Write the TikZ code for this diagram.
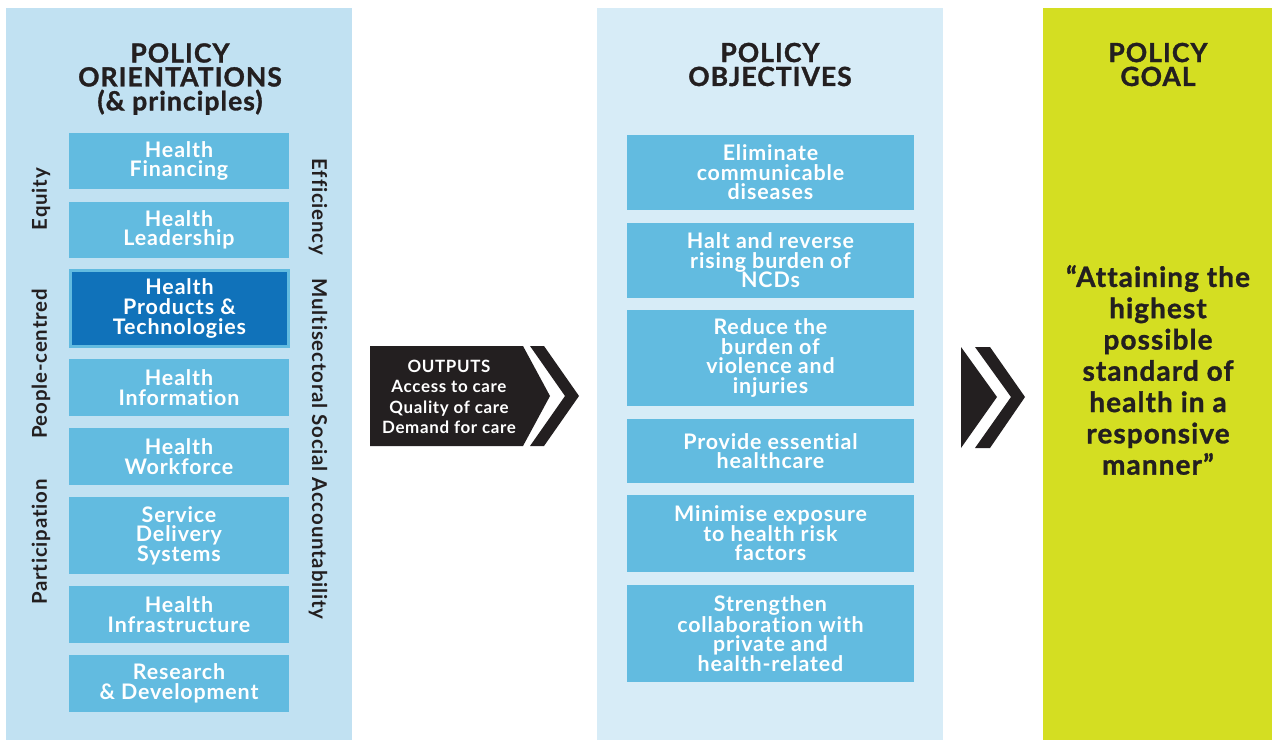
\documentclass[tikz,border=0pt]{standalone}
\usepackage{fontspec}
\setmainfont{Lato}[LetterSpace=4, RawFeature=-liga]
\newfontfamily\heavyfont{Lato}[LetterSpace=4, RawFeature=-liga, BoldFeatures={FakeBold=1.2}]
\definecolor{panelA}{HTML}{C1E1F2}
\definecolor{panelB}{HTML}{D7ECF7}
\definecolor{goalgreen}{HTML}{D4DE22}
\definecolor{boxblue}{HTML}{62BBE0}
\definecolor{darkblue}{HTML}{1072BA}
\definecolor{inkdark}{HTML}{231F20}
\begin{document}
\begin{tikzpicture}[x=1bp,y=-1bp,
  titletext/.style={text=inkdark, align=center, inner sep=0,
    font=\heavyfont\bfseries\fontsize{26.5}{24}\selectfont},
  pillar/.style={fill=boxblue, text=white, align=center, inner sep=0,
    font=\bfseries\fontsize{21.5}{19.6}\selectfont},
  orient/.style={pillar, minimum width=220bp},
  objective/.style={pillar, minimum width=287bp},
  featured/.style={orient, fill=darkblue, draw=boxblue, line width=3bp,
    minimum width=218bp},
  principle/.style={text=inkdark, inner sep=0,
    font=\bfseries\fontsize{20.5}{20}\selectfont},
  chevron/.style={fill=inkdark},
  outputtext/.style={text=white, align=center, inner sep=0,
    font=\bfseries\fontsize{17}{20.5}\selectfont},
  goaltext/.style={text=inkdark, align=center, inner sep=0,
    font=\heavyfont\bfseries\fontsize{28}{31.4}\selectfont}]

% canvas
\useasboundingbox (0,0) rectangle (1272,740);
\fill[white] (0,0) rectangle (1272,740);

% three column panels
\fill[panelA] (6,8) rectangle (352,740);
\fill[panelB] (597,8) rectangle (943,740);
\fill[goalgreen] (1043,8) rectangle (1272,740);

% column headings
\node[titletext] (tOrient) at (180,79) {POLICY\\ORIENTATIONS\\(\& principles)};
\node[titletext] (tObj) at (770,64.5) {POLICY\\OBJECTIVES};
\node[titletext] (tGoal) at (1158,64.5) {POLICY\\GOAL};

% policy orientations
\node[orient, minimum height=56bp] (fin) at (179,161) {Health\\Financing};
\node[orient, minimum height=56bp] (lead) at (179,230) {Health\\Leadership};
\node[featured, minimum height=76bp] (prod) at (179.5,308.5) {Health\\Products \&\\Technologies};
\node[orient, minimum height=57bp] (info) at (179,387.5) {Health\\Information};
\node[orient, minimum height=57bp] (work) at (179,456.5) {Health\\Workforce};
\node[orient, minimum height=77bp] (serv) at (179,535.5) {Service\\Delivery\\Systems};
\node[orient, minimum height=57bp] (infra) at (179,614.5) {Health\\Infrastructure};
\node[orient, minimum height=57bp] (rd) at (179,683.5) {Research\\\& Development};

% principles along both sides
\node[principle, rotate=90] (equity) at (41,199) {Equity};
\node[principle, rotate=90] (people) at (41,364) {People-centred};
\node[principle, rotate=90] (partic) at (41,542) {Participation};
\node[principle, rotate=-90] (effic) at (318,207) {Efficiency};
\node[principle, rotate=-90] (multi) at (318,449) {Multisectoral Social Accountability};

% outputs arrow
\fill[chevron] (370,346) -- (523,346) -- (550,396) -- (523,446) -- (370,446) -- cycle;
\fill[chevron] (530,346) -- (544,346) -- (579,396) -- (544,446) -- (530,446) -- (565,396) -- cycle;
\node[outputtext] (outputs) at (449,397) {OUTPUTS\\Access to care\\Quality of care\\Demand for care};

% policy objectives
\node[objective, minimum height=75bp] (elim) at (770.5,172.5) {Eliminate\\communicable\\diseases};
\node[objective, minimum height=75bp] (halt) at (770.5,260.5) {Halt and reverse\\rising burden of\\NCDs};
\node[objective, minimum height=96bp] (reduce) at (770.5,358) {Reduce the\\burden of\\violence and\\injuries};
\node[objective, minimum height=64bp] (provide) at (770.5,451) {Provide essential\\healthcare};
\node[objective, minimum height=77bp] (minimise) at (770.5,533.5) {Minimise exposure\\to health risk\\factors};
\node[objective, minimum height=97bp] (strengthen) at (770.5,633.5) {Strengthen\\collaboration with\\private and\\health-related};

% arrow towards the goal
\fill[chevron] (961,347) -- (997,397) -- (961,448) -- cycle;
\fill[chevron] (975,347) -- (990,347) -- (1025,397) -- (990,448) -- (975,448) -- (1011,397) -- cycle;

% policy goal
\node[goaltext] (goal) at (1158,370) {“Attaining the\\highest\\possible\\standard of\\health in a\\responsive\\manner”};
\end{tikzpicture}
\end{document}
